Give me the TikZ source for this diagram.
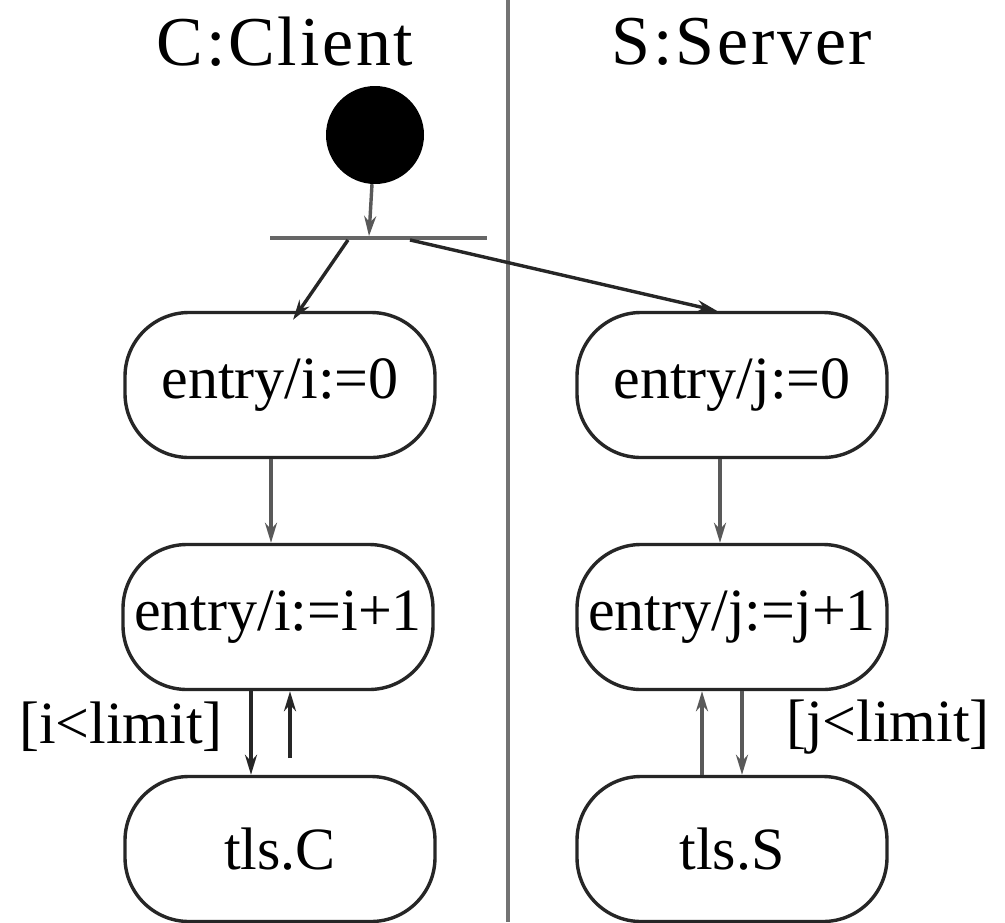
\documentclass[tikz,border=0pt]{standalone}
\usepackage{fontspec}
\setmainfont{Liberation Serif}
\usetikzlibrary{arrows.meta}
\begin{document}
\begin{tikzpicture}[x=1pt,y=-1pt,
  state/.style={draw=black!85,line width=3.4pt,rounded corners=64pt,minimum width=310pt,minimum height=145pt,inner sep=0pt,font=\fontsize{60}{60}\selectfont},
  arr/.style={draw=black!65,line width=3.4pt,-{Stealth[length=20pt,width=12pt]}},
  darr/.style={draw=black!85,line width=3.4pt,-{Stealth[length=20pt,width=12pt]}},
  title/.style={font=\fontsize{70}{70}\selectfont\addfontfeature{LetterSpace=4},inner sep=0pt},
  guard/.style={font=\fontsize{60}{60}\selectfont,inner sep=0pt}]
\useasboundingbox[fill=white] (0,0) rectangle (1005,922);
% swimlane separator
\coordinate (septop) at (508,0);
\coordinate (sepbot) at (508,922);
\draw[black!55,line width=4.5pt] (septop) -- (sepbot);
% titles
\node[title] (tc) at (285,42) {C:Client};
\node[title] (ts) at (742,42) {S:Server};
% initial and fork
\node[circle,fill=black,minimum size=98pt,inner sep=0pt] (init) at (375,135) {};
\node[rectangle,fill=black!60,minimum width=217pt,minimum height=3.5pt,inner sep=0pt] (fork) at (378.5,238) {};
% states
\node[state] (ci0) at (280,385) {entry/i:=0};
\node[state] (ci1) at (278,617) {entry/i:=i+1};
\node[state] (tcl) at (280,849) {tls.C};
\node[state] (sj0) at (732,385) {entry/j:=0};
\node[state] (sj1) at (732,617) {entry/j:=j+1};
\node[state] (tsv) at (732,849) {tls.S};
% guards
\node[guard] (gi) at (121,727) {[i<limit]};
\node[guard] (gj) at (888,727) {[j<limit]};
% connectors
\draw[arr] ([xshift=-3pt]init.south) -- ([xshift=-9.5pt]fork.north);
\draw[darr] ([xshift=-30.5pt]fork.south) -- ([xshift=13pt,yshift=-9pt]ci0.north);
\draw[darr] ([xshift=31.5pt]fork.south) -- ([xshift=-15pt]sj0.north);
\draw[arr] ([xshift=-9pt]ci0.south) -- ([xshift=-7pt]ci1.north);
\draw[arr] ([xshift=-12pt]sj0.south) -- ([xshift=-12pt]sj1.north);
% client loop
\draw[darr] ([xshift=-27pt]ci1.south) -- ([xshift=-29pt]tcl.north);
\coordinate (lu) at (290,758);
\draw[darr] (lu) -- (ci1.south -| lu);
% server loop
\draw[arr] ([xshift=-30pt]tsv.north) -- ([xshift=-30pt]sj1.south);
\draw[arr] ([xshift=10pt]sj1.south) -- ([xshift=10pt]tsv.north);
\end{tikzpicture}
\end{document}
